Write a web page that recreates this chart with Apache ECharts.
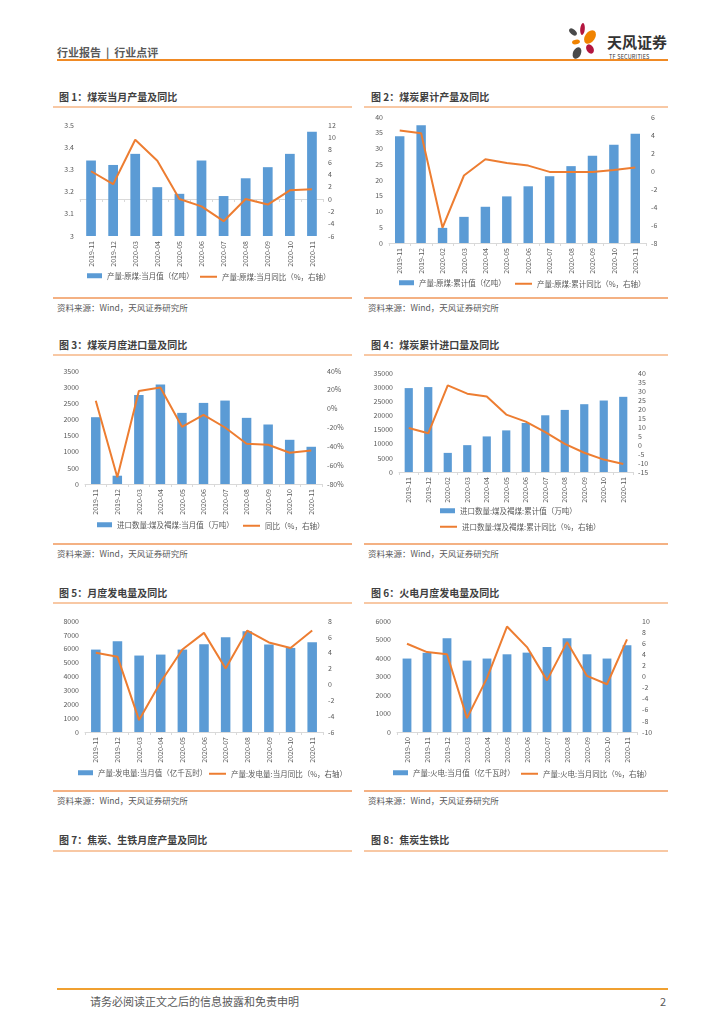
<!DOCTYPE html>
<html><head><meta charset="utf-8">
<script src="https://cdn.jsdelivr.net/npm/echarts@6/dist/echarts.min.js"></script>
<style>
html,body{margin:0;padding:0;background:#fff;width:724px;height:1024px;overflow:hidden;font-family:"Noto Sans CJK SC","Noto Sans",sans-serif;}
.abs{position:absolute;}
.t{position:absolute;white-space:pre;}
.title{font-size:10px;font-weight:bold;color:#404040;}
.src{font-size:8.5px;color:#595959;}
.lineL{position:absolute;height:2px;background:#F8C8A4;}
.lineS{position:absolute;height:2px;background:#F4B183;}
.chart{position:absolute;}
</style></head>
<body>
<script>
// ---------- data ----------
const c1Cats = ['2019-11','2019-12','2020-03','2020-04','2020-05','2020-06','2020-07','2020-08','2020-09','2020-10','2020-11'];
const c1Bars = [3.34,3.32,3.37,3.22,3.19,3.34,3.18,3.26,3.31,3.37,3.47];
const c1Line = [4.5,2.4,9.6,6.2,0.0,-1.2,-3.6,0.0,-0.9,1.4,1.6];

const c2Cats = ['2019-11','2019-12','2020-02','2020-03','2020-04','2020-05','2020-06','2020-07','2020-08','2020-09','2020-10','2020-11'];
const c2Bars = [33.9,37.4,4.8,8.3,11.5,14.8,18.0,21.2,24.4,27.7,31.2,34.7];
const c2Line = [4.5,4.2,-6.3,-0.5,1.3,0.9,0.6,-0.1,-0.1,-0.1,0.1,0.4];

const c3Cats = ['2019-11','2019-12','2020-03','2020-04','2020-05','2020-06','2020-07','2020-08','2020-09','2020-10','2020-11'];
const c3Bars = [2069,257,2759,3078,2203,2512,2584,2049,1843,1369,1153];
const c3Line = [8.3,-72.9,18.8,22.4,-19.3,-6.6,-20.0,-37.2,-38.3,-46.8,-44.3];

const c4Cats = ['2019-11','2019-12','2020-02','2020-03','2020-04','2020-05','2020-06','2020-07','2020-08','2020-09','2020-10','2020-11'];
const c4Bars = [29660,30020,6760,9490,12580,14710,17320,20050,21950,23970,25270,26580];
const c4Line = [9.4,6.5,33.1,28.5,26.9,16.9,13.0,7.2,0.6,-4.3,-8.1,-10.6];

const c5Cats = ['2019-11','2019-12','2020-03','2020-04','2020-05','2020-06','2020-07','2020-08','2020-09','2020-10','2020-11'];
const c5Bars = [5940,6540,5510,5580,5940,6320,6830,7260,6300,6060,6470];
const c5Line = [4.0,3.5,-4.5,0.3,4.4,6.5,2.0,6.8,5.3,4.6,6.8];

const c6Cats = ['2019-10','2019-11','2019-12','2020-03','2020-04','2020-05','2020-06','2020-07','2020-08','2020-09','2020-10','2020-11'];
const c6Bars = [3970,4280,5070,3860,3970,4200,4290,4600,5070,4200,3970,4690];
const c6Line = [5.9,4.4,4.0,-7.5,-0.3,9.0,5.3,-0.7,6.2,0.1,-1.4,6.7];

// ---------- page furniture ----------
function addText(txt, x, y, cls, style){
  const d=document.createElement('div'); d.className='t '+(cls||''); d.textContent=txt;
  d.style.left=x+'px'; d.style.top=y+'px'; if(style) Object.assign(d.style,style);
  document.body.appendChild(d); return d;
}
function addLine(x,y,w,cls,color){
  const d=document.createElement('div'); d.className=cls; d.style.left=x+'px'; d.style.top=y+'px'; d.style.width=w+'px';
  if(color) d.style.background=color; document.body.appendChild(d);
}
addText('行业报告  |  行业点评',57,44,'',{fontSize:'11px',fontWeight:'bold',color:'#595959'});
addLine(57,59,611,'lineS','#F08A24');
addText('天风证券',607,31,'',{fontSize:'15px',fontWeight:'bold',color:'#333'});
addText('TF SECURITIES',609,53,'',{fontSize:'5.5px',color:'#333',letterSpacing:'0.2px'});
document.body.insertAdjacentHTML('beforeend',
 '<svg class="abs" style="left:566px;top:22px" width="34" height="40" viewBox="0 0 34 40">'+
 '<ellipse cx="7" cy="10" rx="4.5" ry="2.6" transform="rotate(40 7 10)" fill="#4a4a4a"/>'+
 '<ellipse cx="16.5" cy="7" rx="2.3" ry="6" transform="rotate(5 16.5 7)" fill="#b3153f"/>'+
 '<ellipse cx="24" cy="15" rx="5" ry="7.5" transform="rotate(35 24 15)" fill="#F08300"/>'+
 '<ellipse cx="10" cy="20" rx="4" ry="2.3" transform="rotate(-10 10 20)" fill="#F08300"/>'+
 '<ellipse cx="24" cy="27" rx="3.5" ry="5" transform="rotate(-30 24 27)" fill="#b3153f"/>'+
 '<ellipse cx="11" cy="31" rx="4" ry="6" transform="rotate(25 11 31)" fill="#4a4a4a"/>'+
 '</svg>');

const titles=[
 ['图 1：煤炭当月产量及同比',59,89],['图 2：煤炭累计产量及同比',371,89],
 ['图 3：煤炭月度进口量及同比',59,337],['图 4：煤炭累计进口量及同比',371,337],
 ['图 5：月度发电量及同比',59,585],['图 6：火电月度发电量及同比',371,585],
 ['图 7：焦炭、生铁月度产量及同比',59,832],['图 8：焦炭生铁比',371,832]];
titles.forEach(t=>addText(t[0],t[1],t[2],'title'));
[106,354,602,850].forEach(y=>{addLine(53,y,299,'lineL');addLine(364,y,304,'lineL');});
[297,543,790].forEach(y=>{addLine(53,y,299,'lineS');addLine(364,y,304,'lineS');
  addText('资料来源：Wind，天风证券研究所',57,y+4,'src');addText('资料来源：Wind，天风证券研究所',368,y+4,'src');});
addLine(57,988,611,'lineS','#F0A030');
addText('请务必阅读正文之后的信息披露和免责申明',90,993,'',{fontSize:'11px',color:'#595959'});
addText('2',660,993,'',{fontSize:'11px',color:'#595959'});

// ---------- charts ----------
const FONT='"Noto Sans CJK SC","Noto Sans",sans-serif';
const LBL={fontSize:7,color:'#595959',fontFamily:FONT};
function makeChart(cfg){
  const d=document.createElement('div'); d.className='chart';
  d.style.left=cfg.x+'px'; d.style.top=cfg.y+'px'; d.style.width=cfg.w+'px'; d.style.height=cfg.h+'px';
  document.body.appendChild(d);
  const ch=echarts.init(d,null,{renderer:'canvas'});
  const legTxt={fontSize:7.5,color:'#595959',fontFamily:FONT};
  ch.setOption({
    animation:false,
    grid:{left:cfg.grid[0],top:cfg.grid[1],right:cfg.grid[2],bottom:cfg.grid[3],containLabel:false},
    legend:[
      {data:[{name:cfg.barName,icon:'rect'}],left:cfg.leg[0][0],top:cfg.leg[0][1],itemWidth:15,itemHeight:5,textStyle:legTxt,padding:0},
      {data:[{name:cfg.lineName,icon:'rect'}],left:cfg.leg[1][0],top:cfg.leg[1][1]+1,itemWidth:17,itemHeight:2,textStyle:legTxt,padding:0}
    ],
    xAxis:{type:'category',data:cfg.cats,
      axisLine:{lineStyle:{color:'#D9D9D9',width:1}},
      axisTick:{show:true,length:3,lineStyle:{color:'#D9D9D9'}},
      axisLabel:Object.assign({rotate:90,margin:5,interval:0},LBL)},
    yAxis:[
      {type:'value',min:cfg.l[0],max:cfg.l[1],interval:cfg.l[2],splitLine:{show:false},axisLine:{show:false},axisTick:{show:false},
        axisLabel:Object.assign({margin:6},LBL,{formatter:cfg.lfmt||(v=>String(v))})},
      {type:'value',min:cfg.r[0],max:cfg.r[1],interval:cfg.r[2],splitLine:{show:false},axisLine:{show:false},axisTick:{show:false},
        axisLabel:Object.assign({margin:5},LBL,{formatter:cfg.rfmt||(v=>String(v))})}
    ],
    series:[
      {name:cfg.barName,type:'bar',data:cfg.bars,barWidth:cfg.bw||'44%',itemStyle:{color:'#5B9BD5'}},
      {name:cfg.lineName,type:'line',yAxisIndex:1,data:cfg.line,symbol:'none',lineStyle:{color:'#ED7D31',width:2},itemStyle:{color:'#ED7D31'},z:5}
    ]
  });
}
makeChart({x:53,y:108,w:299,h:189,grid:[27,17,29,61],cats:c1Cats,bars:c1Bars,line:c1Line,
  l:[3,3.5,0.1],r:[-6,12,2],barName:'产量:原煤:当月值（亿吨）',lineName:'产量:原煤:当月同比（%，右轴）',
  lfmt:v=>String(+v.toFixed(1)),leg:[[34,164],[147,164]]});
makeChart({x:364,y:108,w:304,h:189,grid:[25,9,22,54],cats:c2Cats,bars:c2Bars,line:c2Line,
  l:[0,40,5],r:[-8,6,2],barName:'产量:原煤:累计值（亿吨）',lineName:'产量:原煤:累计同比（%，右轴）',
  leg:[[35,171],[151,171]]});
makeChart({x:53,y:356,w:299,h:187,grid:[32,15,30,59],cats:c3Cats,bars:c3Bars,line:c3Line,
  l:[0,3500,500],r:[-80,40,20],rfmt:v=>v+'%',barName:'进口数量:煤及褐煤:当月值（万吨）',lineName:'同比（%，右轴）',
  leg:[[44,165],[190,165]]});
makeChart({x:364,y:356,w:304,h:187,grid:[35,17,35,71],cats:c4Cats,bars:c4Bars,line:c4Line,bw:'42%',
  l:[0,35000,5000],r:[-15,40,5],barName:'进口数量:煤及褐煤:累计值（万吨）',lineName:'进口数量:煤及褐煤:累计同比（%，右轴）',
  leg:[[76,151],[76,166]]});
makeChart({x:53,y:604,w:299,h:186,grid:[32,17,29,58],cats:c5Cats,bars:c5Bars,line:c5Line,
  l:[0,8000,1000],r:[-6,8,2],barName:'产量:发电量:当月值（亿千瓦时）',lineName:'产量:发电量:当月同比（%，右轴）',
  leg:[[25,165],[156,165]]});
makeChart({x:364,y:604,w:304,h:186,grid:[33,17,31,58],cats:c6Cats,bars:c6Bars,line:c6Line,
  l:[0,6000,1000],r:[-10,10,2],barName:'产量:火电:当月值（亿千瓦时）',lineName:'产量:火电:当月同比（%，右轴）',
  leg:[[29,165],[157,165]]});
</script>
</body></html>
